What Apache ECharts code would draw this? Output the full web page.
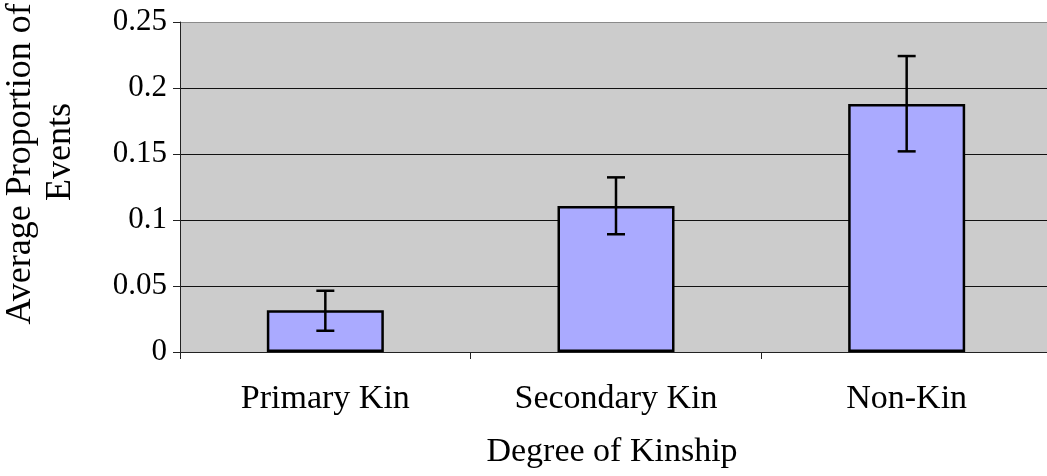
<!DOCTYPE html>
<html>
<head>
<meta charset="utf-8">
<script src="https://cdn.jsdelivr.net/npm/echarts@6/dist/echarts.min.js"></script>
<style>
html,body{margin:0;padding:0;background:#fff;}
#chart{width:1047px;height:476px;}
</style>
</head>
<body>
<div id="chart"></div>
<script>
// Data
const categories = ['Primary Kin', 'Secondary Kin', 'Non-Kin'];
const meanValues = [0.0316, 0.1106, 0.1879];
const errorLow = [0.0161, 0.0892, 0.152];
const errorHigh = [0.0464, 0.1323, 0.2242];
const yTickLabels = ['0', '0.05', '0.1', '0.15', '0.2', '0.25'];
const xAxisTitle = 'Degree of Kinship';
const yAxisTitleLines = ['Average Proportion of', 'Events'];

const FONT = '"Liberation Serif", "Times New Roman", serif';

const errorData = categories.map((c, i) => [i, errorLow[i], errorHigh[i]]);

const chart = echarts.init(document.getElementById('chart'), null, {renderer: 'canvas'});

chart.setOption({
  animation: false,
  backgroundColor: '#ffffff',
  grid: {
    left: 180, width: 872, top: 22, height: 330,
    outerBoundsMode: 'none',
    show: true, backgroundColor: '#cccccc', borderWidth: 0
  },
  xAxis: {
    type: 'category',
    data: categories,
    axisLine: {show: true, lineStyle: {color: '#222', width: 1}},
    axisTick: {show: true, length: 7, inside: false, lineStyle: {color: '#222', width: 1}},
    axisLabel: {color: '#000', fontFamily: FONT, fontSize: 34, margin: 30},
    splitLine: {show: false}
  },
  yAxis: {
    type: 'value',
    min: 0, max: 0.25, interval: 0.05,
    axisLine: {show: true, lineStyle: {color: '#222', width: 1}},
    axisTick: {show: true, length: 7, inside: false, lineStyle: {color: '#222', width: 1}},
    axisLabel: {
      color: '#000', fontFamily: FONT, fontSize: 31, margin: 13,
      formatter: (v, i) => yTickLabels[i]
    },
    splitLine: {show: true, lineStyle: {color: ['#111', '#111', '#111', '#111', '#111', '#8a8a8a'], width: 1}}
  },
  graphic: [
    {
      type: 'text', x: 612, y: 452, z: 10,
      style: {text: xAxisTitle, font: '34px ' + FONT, fill: '#000', textAlign: 'center', textVerticalAlign: 'middle'}
    },
    {
      type: 'text', x: 21, y: 164, rotation: Math.PI / 2, z: 10,
      style: {text: yAxisTitleLines[0], font: '36px ' + FONT, fill: '#000', textAlign: 'center', textVerticalAlign: 'middle'}
    },
    {
      type: 'text', x: 61, y: 152, rotation: Math.PI / 2, z: 10,
      style: {text: yAxisTitleLines[1], font: '36px ' + FONT, fill: '#000', textAlign: 'center', textVerticalAlign: 'middle'}
    }
  ],
  series: [
    {
      type: 'bar',
      data: meanValues,
      barWidth: 117,
      itemStyle: {color: '#aaaaff', borderColor: '#000', borderWidth: 2.5},
      z: 2
    },
    {
      type: 'custom',
      data: errorData,
      z: 3,
      renderItem: function (params, api) {
        const idx = api.value(0);
        const lo = api.coord([idx, api.value(1)]);
        const hi = api.coord([idx, api.value(2)]);
        const half = 9;
        const st = {stroke: '#000', lineWidth: 2.5};
        return {
          type: 'group',
          children: [
            {type: 'line', shape: {x1: lo[0], y1: lo[1], x2: hi[0], y2: hi[1]}, style: st},
            {type: 'line', shape: {x1: hi[0] - half, y1: hi[1], x2: hi[0] + half, y2: hi[1]}, style: st},
            {type: 'line', shape: {x1: lo[0] - half, y1: lo[1], x2: lo[0] + half, y2: lo[1]}, style: st}
          ]
        };
      }
    }
  ]
});
</script>
</body>
</html>
